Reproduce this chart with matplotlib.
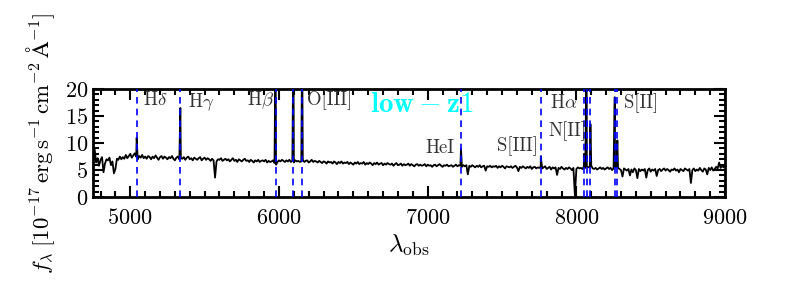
import numpy as np
import matplotlib
matplotlib.use("Agg")
import matplotlib.pyplot as plt

plt.rcParams['font.family'] = 'serif'
plt.rcParams['font.serif'] = ['cmr10', 'DejaVu Serif']
plt.rcParams['mathtext.fontset'] = 'cm'
plt.rcParams['axes.formatter.use_mathtext'] = True
plt.rcParams['axes.unicode_minus'] = False

# ---------------- data ----------------
redshift = 0.2295
wave_start, wave_stop, wave_step = 4750, 9000, 10
continuum = [
    7.6, 9.0, 6.4, 7.2, 5.8, 6.9, 7.4, 4.6, 6.2, 7.0,
    6.8, 7.3, 5.9, 6.6, 4.4, 5.2, 7.1, 6.9, 7.5, 7.0,
    7.4, 7.1, 7.8, 7.2, 7.6, 8.0, 7.3, 7.7, 8.1, 7.5,
    7.0, 7.6, 7.3, 7.8, 7.2, 7.5, 7.1, 7.6, 7.4, 7.0,
    7.5, 7.2, 7.7, 7.3, 6.9, 7.4, 7.6, 7.1, 7.5, 7.3,
    7.0, 7.4, 7.2, 7.6, 7.1, 6.8, 7.3, 7.5, 7.0, 7.2,
    7.1, 7.4, 6.9, 7.3, 7.5, 7.0, 7.2, 6.8, 7.3, 7.1,
    6.9, 7.2, 7.4, 6.8, 7.1, 7.3, 6.9, 7.2, 7.0, 6.7,
    7.1, 6.8, 3.6, 6.6, 7.0, 6.9, 7.2, 6.7, 6.9, 7.1,
    6.8, 7.0, 6.6, 6.9, 7.2, 6.7, 6.9, 6.5, 7.0, 6.8,
    6.6, 6.9, 7.1, 6.7, 6.8, 6.5, 6.9, 6.7, 6.4, 6.8,
    6.6, 6.9, 6.5, 6.7, 6.8, 6.6, 6.9, 6.4, 6.7, 6.5,
    6.6, 6.8, 6.3, 6.0, 6.5, 6.8, 6.6, 6.9, 6.7, 6.5,
    6.8, 6.6, 6.9, 6.5, 6.7, 6.4, 6.8, 6.6, 6.7, 6.5,
    6.6, 6.9, 6.5, 6.7, 6.8, 6.4, 6.6, 6.9, 6.5, 6.7,
    6.6, 6.4, 6.7, 6.5, 6.3, 6.6, 6.5, 6.2, 6.6, 6.4,
    6.5, 6.2, 6.6, 6.4, 6.1, 6.5, 6.3, 6.6, 6.2, 6.4,
    6.3, 6.5, 6.1, 6.4, 6.2, 6.0, 6.4, 6.2, 6.5, 6.1,
    6.3, 6.2, 6.5, 6.0, 6.3, 6.1, 6.4, 6.2, 5.9, 6.3,
    6.1, 6.4, 6.0, 6.2, 6.3, 5.9, 6.2, 6.0, 6.3, 6.1,
    6.0, 6.2, 5.8, 6.1, 6.3, 5.9, 6.0, 6.2, 5.8, 6.1,
    5.9, 6.0, 6.2, 5.8, 6.1, 5.9, 5.7, 6.0, 6.1, 5.8,
    6.0, 5.8, 5.9, 6.1, 5.7, 6.0, 5.8, 5.9, 5.6, 5.9,
    6.0, 5.7, 5.9, 6.1, 5.8, 5.6, 5.9, 5.8, 6.0, 5.7,
    5.8, 5.9, 5.6, 5.8, 6.0, 5.7, 5.9, 5.8, 5.6, 5.9,
    5.7, 5.9, 4.2, 5.8, 5.6, 5.9, 5.7, 5.5, 5.8, 5.6,
    5.9, 5.5, 5.7, 5.8, 4.9, 5.7, 5.6, 5.8, 5.5, 5.7,
    5.6, 5.8, 5.4, 5.7, 5.5, 5.8, 5.6, 5.3, 5.7, 5.6,
    5.5, 5.7, 5.4, 5.6, 5.8, 5.5, 4.8, 5.6, 5.4, 5.7,
    5.5, 5.3, 5.6, 5.4, 5.7, 5.2, 5.5, 5.6, 5.3, 5.5,
    5.4, 5.6, 5.3, 5.5, 5.7, 5.2, 5.4, 5.6, 5.1, 5.5,
    5.3, 5.5, 4.1, 5.4, 5.2, 5.6, 5.3, 5.1, 5.4, 5.2,
    5.5, 5.3, 5.0, 5.4, 0.3, 5.2, 5.5, 5.3, 5.4, 5.2,
    5.6, 5.4, 5.7, 5.5, 5.6, 5.8, 5.3, 5.2, 5.4, 5.1,
    5.3, 5.5, 5.2, 5.4, 5.1, 5.3, 5.5, 5.2, 5.4, 5.0,
    5.3, 5.5, 5.6, 5.4, 5.2, 5.0, 3.8, 5.3, 5.1, 4.9,
    5.2, 4.0, 5.1, 4.6, 5.3, 5.0, 3.5, 5.2, 4.8, 5.1,
    4.9, 5.2, 3.6, 5.0, 5.3, 4.7, 5.1, 4.9, 5.2, 3.9,
    5.0, 5.2, 4.8, 5.1, 5.3, 4.9, 5.2, 5.0, 4.7, 5.1,
    5.0, 5.3, 4.9, 5.1, 4.6, 5.2, 5.0, 4.8, 5.3, 5.1,
    4.9, 5.2, 2.6, 5.0, 5.3, 4.8, 5.1, 4.9, 5.4, 5.0,
    4.7, 5.3, 5.1, 4.2, 5.4, 5.0, 5.5, 4.9, 5.2, 5.6,
    5.3, 6.4, 5.4, 5.8, 5.5, 6.0,
]

# emission lines (rest-frame wavelength, peak flux)
line_rest = [4101.7, 4340.5, 4861.3, 4958.9, 5006.8, 5875.6, 6312.1,
             6548.1, 6562.8, 6583.5, 6716.4, 6730.8]
line_peak = [11.0, 16.5, 30.0, 30.0, 30.0, 9.0, 7.5,
             8.0, 30.0, 13.5, 18.5, 10.5]

# labels: text, x, y, horizontal alignment
label_text = [r'H$\delta$', r'H$\gamma$', r'H$\beta$', 'O[III]', 'HeI',
              'S[III]', r'H$\alpha$', 'N[II]', 'S[II]']
label_x = [5085, 5385, 5968, 6190, 7180, 7745, 7825, 7815, 8320]
label_y = [18.0, 17.6, 17.9, 17.9, 9.0, 9.5, 17.4, 12.2, 17.4]
label_ha = ['left', 'left', 'right', 'left', 'right', 'right', 'left',
            'left', 'left']

title_text = r'$\mathbf{low-z1}$'

# ---------------- build spectrum ----------------
wave = np.arange(wave_start, wave_stop + 1, wave_step).astype(float)
flux = np.array(continuum, dtype=float)
line_obs = np.array(line_rest) * (1 + redshift)
all_w = np.concatenate([wave, line_obs])
all_f = np.concatenate([flux, np.array(line_peak)])
order = np.argsort(all_w)
all_w, all_f = all_w[order], all_f[order]

# ---------------- plot ----------------
fig = plt.figure(figsize=(7.89, 2.95), dpi=100)
ax = fig.add_axes([0.118, 0.332, 0.801, 0.366])

ax.plot(all_w, all_f, color='black', lw=1.3, zorder=2)
for lo in line_obs:
    ax.axvline(lo, color='blue', ls=(0, (4, 3)), lw=1.2, zorder=3)

for t, x, y, ha in zip(label_text, label_x, label_y, label_ha):
    ax.text(x, y, t, ha=ha, va='center', fontsize=13.5, color='0.2', zorder=4)

ax.text(6960, 17.0, title_text, ha='center', va='center', fontsize=21,
        color='cyan', zorder=4)

ax.set_xlim(4750, 9000)
ax.set_ylim(0, 20)
ax.set_xticks([5000, 6000, 7000, 8000, 9000])
ax.set_yticks([0, 5, 10, 15, 20])
ax.xaxis.set_minor_locator(matplotlib.ticker.MultipleLocator(100))
ax.yaxis.set_minor_locator(matplotlib.ticker.MultipleLocator(1))
ax.tick_params(which='both', direction='in', top=True, right=True,
               labelsize=16, width=1.5)
ax.tick_params(which='major', length=8)
ax.tick_params(which='minor', length=4)
ax.tick_params(axis='x', pad=8)
for s in ax.spines.values():
    s.set_linewidth(2.0)

ax.set_xlabel(r'$\lambda_{\rm obs}$', fontsize=18, labelpad=3)
ax.set_ylabel(r'$f_\lambda\;[10^{-17}\,{\rm erg\,s^{-1}\,cm^{-2}\,\AA^{-1}}]$',
              fontsize=16.5, labelpad=6)

fig.savefig('out.png', dpi=100)
